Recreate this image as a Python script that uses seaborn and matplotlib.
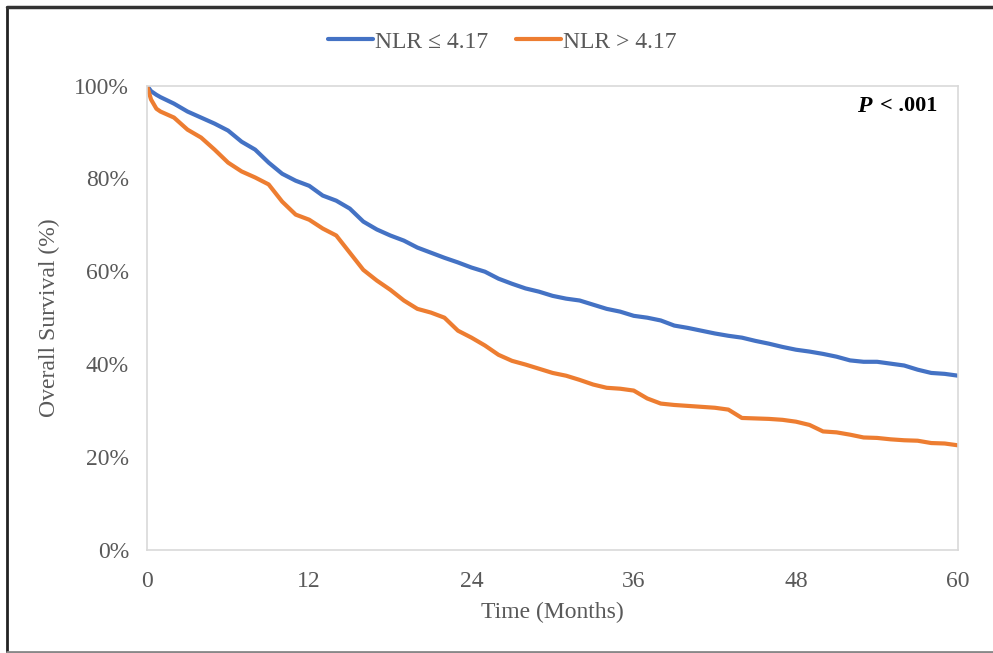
import matplotlib
matplotlib.use("Agg")
import matplotlib.pyplot as plt
import pandas as pd
import seaborn as sns
from matplotlib.lines import Line2D

# months
months = [0, 0.3, 0.7, 1, 2, 3, 4, 5, 6, 7, 8, 9, 10, 11, 12, 13, 14, 15, 16, 17, 18, 19,
          20, 21, 22, 23, 24, 25, 26, 27, 28, 29, 30, 31, 32, 33, 34, 35, 36, 37, 38, 39,
          40, 41, 42, 43, 44, 45, 46, 47, 48, 49, 50, 51, 52, 53, 54, 55, 56, 57, 58, 59, 60]

# survival (%) NLR <= 4.17
surv_low = [100, 98.8, 98.0, 97.5, 96.1, 94.4, 93.1, 91.8, 90.3, 87.9, 86.2, 83.4, 81.0, 79.5,
            78.4, 76.3, 75.2, 73.5, 70.7, 69.0, 67.7, 66.6, 65.1, 64.0, 62.9, 61.9, 60.8,
            59.9, 58.4, 57.3, 56.3, 55.6, 54.7, 54.1, 53.7, 52.8, 51.9, 51.3, 50.4, 50.0,
            49.4, 48.3, 47.8, 47.2, 46.6, 46.1, 45.7, 45.0, 44.4, 43.7, 43.1, 42.7, 42.2,
            41.6, 40.8, 40.5, 40.5, 40.1, 39.7, 38.8, 38.1, 37.9, 37.5]

# survival (%) NLR > 4.17
surv_high = [100, 97.0, 95.0, 94.4, 93.1, 90.5, 88.8, 86.2, 83.4, 81.5, 80.2, 78.7, 75.0, 72.2,
             71.1, 69.2, 67.7, 64.0, 60.3, 58.0, 56.0, 53.7, 51.9, 51.1, 50.0, 47.2, 45.7,
             44.0, 42.0, 40.7, 39.9, 39.0, 38.1, 37.5, 36.6, 35.6, 34.9, 34.7, 34.3, 32.6,
             31.5, 31.2, 31.0, 30.8, 30.6, 30.2, 28.4, 28.3, 28.2, 28.0, 27.6, 26.9, 25.5,
             25.3, 24.8, 24.2, 24.1, 23.8, 23.6, 23.5, 23.0, 22.9, 22.5]

groups = ["NLR \u2264 4.17", "NLR > 4.17"]
colors = ["#4472C4", "#ED7D31"]
x_ticks = [0, 12, 24, 36, 48, 60]
y_ticks = [0, 20, 40, 60, 80, 100]

df = pd.concat([
    pd.DataFrame({"month": months, "survival": surv_low, "group": groups[0]}),
    pd.DataFrame({"month": months, "survival": surv_high, "group": groups[1]}),
])

sns.set_theme(style="white")
plt.rcParams["font.family"] = ["Liberation Serif", "DejaVu Serif"]
grey = "#595959"

fig = plt.figure(figsize=(9.93, 6.53), dpi=100)
ax = fig.add_axes([0.148, 0.158, 0.817, 0.711])

sns.lineplot(data=df, x="month", y="survival", hue="group", hue_order=groups,
             palette=colors, linewidth=3, ax=ax, legend=False)

ax.set_xlim(0, 60)
ax.set_ylim(0, 100)
ax.set_xticks(x_ticks)
ax.set_yticks(y_ticks)
ax.set_yticklabels([f"{v}%" for v in y_ticks])
ax.tick_params(axis="both", labelsize=17, colors=grey, length=0)
ax.tick_params(axis="x", pad=15)
ax.tick_params(axis="y", pad=13)
ax.set_xlabel("Time (Months)", fontsize=17, color=grey, labelpad=7)
ax.set_ylabel("Overall Survival (%)", fontsize=17, color=grey, labelpad=10)
for s in ax.spines.values():
    s.set_color("#D9D9D9")
    s.set_linewidth(1.2)

ax.annotate("P", xy=(0.875, 0.955), xycoords="axes fraction", ha="left", va="center",
            fontsize=17, fontweight="bold", style="italic", color="black")
ax.annotate("< .001", xy=(0.904, 0.955), xycoords="axes fraction", ha="left", va="center",
            fontsize=16, fontweight="bold", color="black")

handles = [Line2D([0], [0], color=c, lw=3) for c in colors]
fig.legend(handles, groups, loc="center", bbox_to_anchor=(0.506, 0.936), ncol=2,
           frameon=False, fontsize=17, handlelength=1.9, handletextpad=0.08,
           columnspacing=1.2, labelcolor=grey)

# outer frame
fig.add_artist(Line2D([7 / 993, 7 / 993], [1 / 653, 646 / 653], transform=fig.transFigure,
                      color="#222222", lw=2))
fig.add_artist(Line2D([7 / 993, 1], [646 / 653, 646 / 653], transform=fig.transFigure,
                      color="#333333", lw=2.5))
fig.add_artist(Line2D([7 / 993, 1], [1.5 / 653, 1.5 / 653], transform=fig.transFigure,
                      color="#888888", lw=2))

fig.savefig("out.png", dpi=100)
